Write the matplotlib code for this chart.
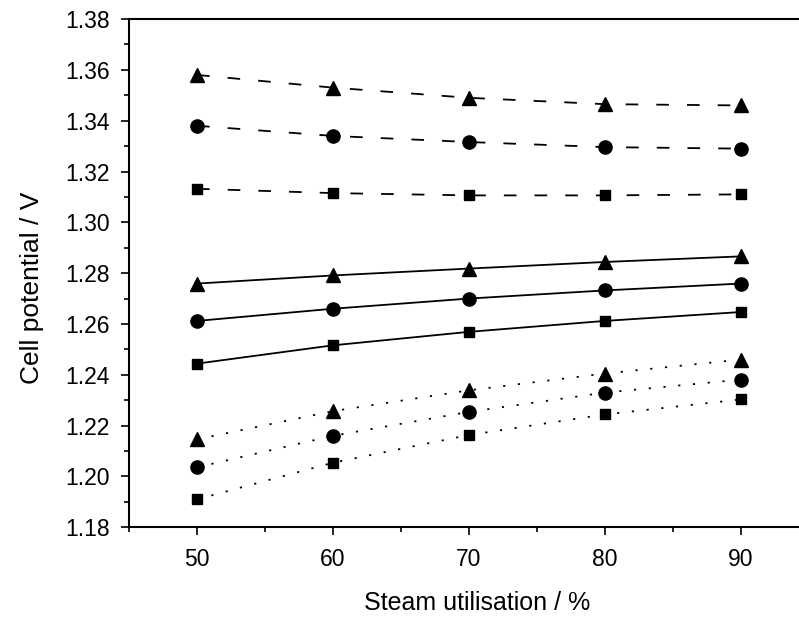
import matplotlib
matplotlib.use('Agg')
import matplotlib.pyplot as plt
from matplotlib.ticker import MultipleLocator, FormatStrFormatter

plt.rcParams['font.family'] = ['Liberation Sans', 'DejaVu Sans']

# steam utilisation (%)
steam = [50, 60, 70, 80, 90]

# dashed group
dash_tri = [1.358, 1.353, 1.349, 1.3465, 1.346]
dash_circ = [1.338, 1.334, 1.3316, 1.3296, 1.329]
dash_sq = [1.3132, 1.3115, 1.3106, 1.3106, 1.311]

# solid group
solid_tri = [1.2759, 1.2791, 1.2818, 1.2844, 1.2866]
solid_circ = [1.2612, 1.2660, 1.2700, 1.2732, 1.2759]
solid_sq = [1.2444, 1.2516, 1.2569, 1.2612, 1.2647]

# dotted group
dot_tri = [1.2146, 1.2257, 1.2339, 1.2405, 1.2460]
dot_circ = [1.2036, 1.2160, 1.2254, 1.2330, 1.2381]
dot_sq = [1.1910, 1.2054, 1.2163, 1.2244, 1.2303]

fig = plt.figure(figsize=(7.99, 6.22), dpi=100)
ax = fig.add_axes([0.1615, 0.1523, 0.8506, 0.8171])

dashed = (0, (7, 10))
dotted = (0, (1.2, 7))
groups = [
    (dash_tri, dash_circ, dash_sq, dashed),
    (solid_tri, solid_circ, solid_sq, '-'),
    (dot_tri, dot_circ, dot_sq, dotted),
]
for tri, circ, sq, ls in groups:
    ax.plot(steam, tri, color='black', linestyle=ls, lw=1.3, marker='^', ms=10.5)
    ax.plot(steam, circ, color='black', linestyle=ls, lw=1.3, marker='o', ms=9.5)
    ax.plot(steam, sq, color='black', linestyle=ls, lw=1.3, marker='s', ms=7.5)

ax.set_xlim(45, 95)
ax.set_ylim(1.18, 1.38)
ax.xaxis.set_major_locator(MultipleLocator(10))
ax.xaxis.set_minor_locator(MultipleLocator(5))
ax.yaxis.set_major_locator(MultipleLocator(0.02))
ax.yaxis.set_minor_locator(MultipleLocator(0.01))
ax.yaxis.set_major_formatter(FormatStrFormatter('%.2f'))

ax.tick_params(which='both', direction='out', top=False, right=False, width=1.2)
ax.tick_params(which='major', length=6, labelsize=16.5)
ax.tick_params(axis='y', which='major', pad=8)
ax.tick_params(axis='x', which='major', pad=9)
ax.tick_params(which='minor', length=3.5)
for s in ax.spines.values():
    s.set_linewidth(1.5)

ax.set_xlabel('Steam utilisation / %', fontsize=18)
ax.set_ylabel('Cell potential / V', fontsize=19)
ax.xaxis.set_label_coords(0.512, -0.125)
ax.yaxis.set_label_coords(-0.125, 0.471)

fig.savefig('out.png', dpi=100)
